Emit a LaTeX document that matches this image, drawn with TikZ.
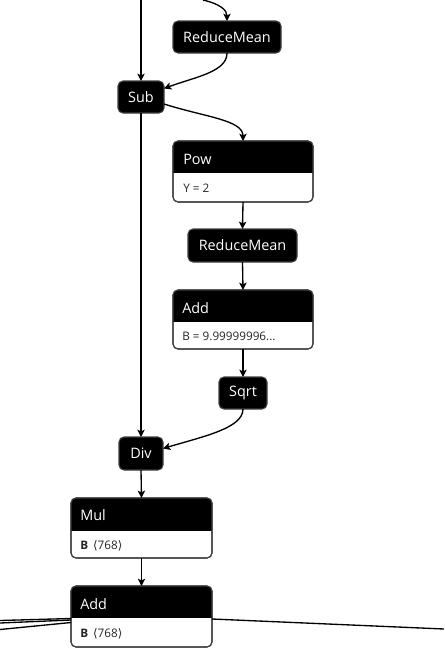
\documentclass[tikz,border=0pt]{standalone}
\usepackage{fontspec}
\setmainfont{Open Sans}
\newfontfamily\symfont{DejaVu Sans}
\usetikzlibrary{arrows.meta}
\tikzset{
  edge/.style={line width=1pt, draw=black, -{Stealth[length=5.5pt,width=5.5pt,inset=1.3pt]}},
  plain/.style={line width=1pt, draw=black},
  opbox/.style={draw=black!75, line width=0.8pt, fill=black, rounded corners=3.75pt, outer sep=0pt, inner sep=0pt,
    text=white, font=\fontsize{10.8pt}{12pt}\selectfont},
  dblbox/.style={draw=black!75, line width=0.8pt, fill=white, rounded corners=3.75pt, outer sep=0pt, inner sep=0pt},
  hdtext/.style={anchor=base west, inner sep=0pt, text=white, font=\fontsize{10.8pt}{12pt}\selectfont},
  attext/.style={anchor=base west, inner sep=0pt, text=black!85, font=\fontsize{8.8pt}{10pt}\selectfont},
}
\begin{document}
\begin{tikzpicture}[x=0.75pt,y=-0.75pt]
\useasboundingbox (0,0) rectangle (444,664);
% single nodes
\node[opbox, minimum width=81pt, minimum height=24pt] (rm1) at (227,37) {ReduceMean};
\node[opbox, minimum width=34.5pt, minimum height=24pt] (sub) at (141,97) {Sub};
\node[opbox, minimum width=81.75pt, minimum height=24.75pt] (rm2) at (242.5,245.5) {ReduceMean};
\node[opbox, minimum width=36pt, minimum height=24pt] (sqrt) at (243,393) {Sqrt};
\node[opbox, minimum width=33pt, minimum height=24.75pt] (div) at (141,453.5) {Div};
% double nodes
\node[dblbox, minimum width=105pt, minimum height=45.75pt] (pow) at (243,171.5) {};
\node[dblbox, minimum width=105pt, minimum height=44.25pt] (add1) at (243,319.5) {};
\node[dblbox, minimum width=105.75pt, minimum height=45pt] (mul) at (141.5,528) {};
\node[dblbox, minimum width=105.75pt, minimum height=45.75pt] (add2) at (141.5,616.5) {};
\foreach \n/\s in {pow/173, add1/322, mul/531, add2/618}{
  \begin{scope}
    \clip[rounded corners=3.75pt] (\n.north west) rectangle (\n.south east);
    \fill[black] (\n.north west) rectangle (\n.east |- 0,\s);
  \end{scope}
  \draw[draw=black!75, line width=0.8pt, rounded corners=3.75pt] (\n.north west) rectangle (\n.south east);
}
\node[hdtext] (powh) at (183,164) {Pow};
\node[attext] (powa) at (183,192) {Y = 2};
\node[hdtext] (add1h) at (182,313) {Add};
\node[attext] (add1a) at (182,340.5) {B = 9.99999996...};
\node[hdtext] (mulh) at (80,520.5) {Mul};
\node[attext] (mula) at (80,549) {\textbf{B}\ \,{\symfont ⟨}768{\symfont ⟩}};
\node[hdtext] (add2h) at (80,609) {Add};
\node[attext] (add2a) at (80,637) {\textbf{B}\ \,{\symfont ⟨}768{\symfont ⟩}};
% free ends
\coordinate (t1) at (141,0);
\coordinate (t2) at (203,0);
\coordinate (l1) at (0,620.5);
\coordinate (l2) at (0,623);
\coordinate (l3) at (0,629.5);
\coordinate (r1) at (444,629);
% edges
\draw[edge] (t1) -- (sub.north);
\draw[edge] (t2) .. controls (220,4) and (227,10) .. (rm1.north);
\draw[edge] (rm1.south) .. controls (227,72) and (195,77) .. (sub.east |- 0,88.5);
\draw[edge] (sub.east |- 0,104) .. controls (205,117) and (243,120) .. (pow.north);
\draw[edge] (pow.south) -- (rm2.north);
\draw[edge] (rm2.south) -- (add1.north);
\draw[edge] (add1.south) -- (sqrt.north);
\draw[edge] (sqrt.south) .. controls (243,428) and (205,436) .. (div.east |- 0,448.5);
\draw[edge] (sub.south) -- (div.north);
\draw[edge] (div.south) -- (mul.north);
\draw[edge] (mul.south) -- (add2.north);
\draw[plain] (l1) -- (add2.west |- 0,618.5);
\draw[plain] (l2) -- (add2.west |- 0,620);
\draw[plain] (l3) -- (add2.west |- 0,622.5);
\draw[plain] (add2.east |- 0,619) -- (r1);
\end{tikzpicture}
\end{document}
